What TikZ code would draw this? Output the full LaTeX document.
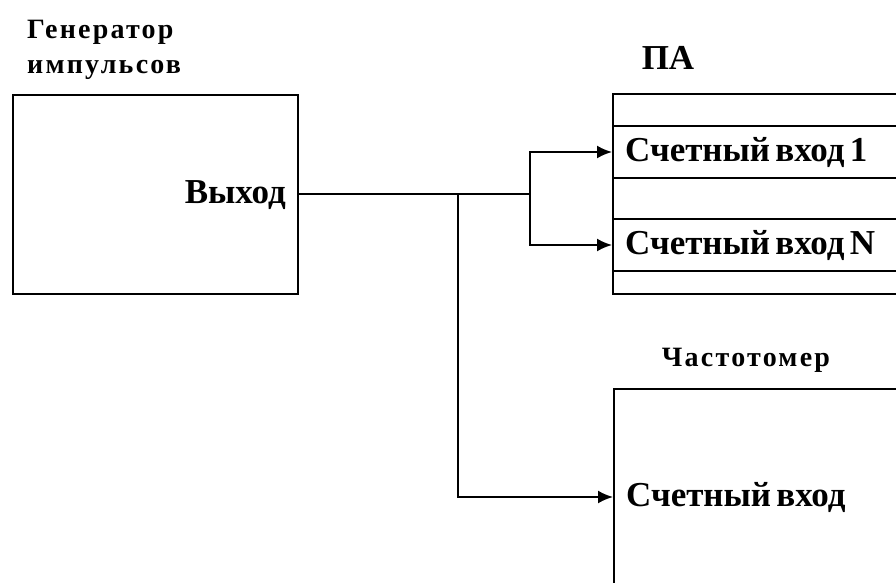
\documentclass[tikz,border=0pt]{standalone}
\usepackage{fontspec}
\setmainfont{Liberation Serif}
\newfontfamily\lblfont[WordSpace=0.6]{Liberation Serif}
\usetikzlibrary{arrows.meta}

\tikzset{
  blk/.style={draw, line width=2pt, inner sep=0pt, anchor=north west},
  lbl/.style={font=\lblfont\bfseries\fontsize{35}{40}\selectfont, inner sep=0pt},
  row/.style={blk, minimum width=306pt, minimum height=#1},
  ttl/.style={font=\bfseries\fontsize{28}{35}\selectfont\addfontfeatures{LetterSpace=8},
    inner sep=0pt, align=left},
  link/.style={line width=2pt},
  arr/.style={link, -{Latex[length=15pt,width=13pt]}}
}

\begin{document}
\begin{tikzpicture}[x=1pt,y=-1pt]
    \clip (0,0) rectangle (896,583);
    \fill[white] (0,0) rectangle (896,583);

    % Generator
    \node[ttl, anchor=north west] (gen-title) at (27,20) {Генератор\\импульсов};
    \node[blk, minimum width=285pt, minimum height=199pt] (gen) at (12,94) {};
    \node[lbl, anchor=east] (gen-out) at (286,195) {Выход};

    % PA
    \node[lbl] (pa-title) at (668,58) {ПА};
    \node[blk, minimum width=306pt, minimum height=200pt] (pa) at (612,93) {};
    \node[row=52pt] (pa-in1) at (612,125) {};
    \node[row=52pt] (pa-inN) at (612,218) {};
    \node[lbl, anchor=west, inner xsep=13pt] (pa-in1-txt) at (pa-in1.west) {Счетный вход 1};
    \node[lbl, anchor=west, inner xsep=13pt] (pa-inN-txt) at (pa-inN.west) {Счетный вход N};

    % Frequency meter
    \node[ttl, anchor=base] (fm-title) at (746,366) {Частотомер};
    \node[blk, minimum width=306pt, minimum height=220pt] (fm) at (613,388) {};
    \node[lbl, anchor=west, inner xsep=13pt] (fm-in) at (613,497) {Счетный вход};

    % Connections
    \coordinate (j1) at (458,194);
    \coordinate (j2) at (530,194);
    \draw[link] (gen.east |- j2) -- (j2);
    \draw[arr] (j2) |- (pa-in1.west);
    \draw[arr] (j2) |- (pa-inN.west);
    \draw[arr] (j1) |- (fm-in.west);
\end{tikzpicture}
\end{document}
